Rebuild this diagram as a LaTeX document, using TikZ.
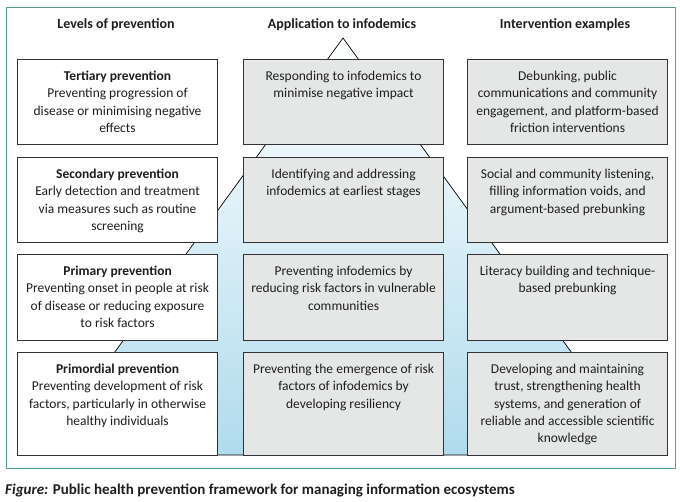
\documentclass[tikz,border=0pt]{standalone}
\usepackage{fontspec}
\setmainfont{Carlito}
\definecolor{framegreen}{RGB}{84,160,122}
\definecolor{boxgray}{RGB}{229,231,231}
\definecolor{edgegray}{RGB}{50,50,50}
\definecolor{txt}{RGB}{30,30,30}
\definecolor{pyrblue}{RGB}{176,219,237}
\tikzset{
  boxw/.style={draw=edgegray, line width=1.1pt, fill=white, minimum width=200pt, inner sep=0pt, anchor=north west},
  boxg/.style={boxw, fill=boxgray},
  btext/.style={align=center, inner sep=0pt, anchor=north, text=txt, font=\fontsize{13.5}{17.3}\selectfont},
  head/.style={text=txt, font=\fontsize{14}{16}\selectfont\bfseries, inner sep=0pt},
}
\begin{document}
\begin{tikzpicture}[x=1pt,y=-1pt]
\useasboundingbox (0,0) rectangle (680,501);
% frame
\node[draw=framegreen, line width=1.2pt, minimum width=669pt, minimum height=461pt, anchor=north west, inner sep=0pt] (frame) at (6,7) {};
% pyramid
\coordinate (apex) at (343,38);
\coordinate (bl) at (40,455);
\coordinate (br) at (646,455);
\shade[top color=white, bottom color=pyrblue, draw=black, line width=0.7pt] (apex) -- (bl) -- (br) -- cycle;
% headers
\node[head] (h1) at (116,25) {Levels of prevention};
\node[head] (h2) at (342,25) {Application to infodemics};
\node[head] (h3) at (565,25) {Intervention examples};
% left column
\node[boxw, minimum height=85pt] (l1) at (17,59) {};
\node[boxw, minimum height=85pt] (l2) at (17,157) {};
\node[boxw, minimum height=86pt] (l3) at (17,254) {};
\node[boxw, minimum height=103pt] (l4) at (17,352) {};
% middle column
\node[boxg, minimum height=85pt] (m1) at (243,59) {};
\node[boxg, minimum height=85pt] (m2) at (243,157) {};
\node[boxg, minimum height=86pt] (m3) at (243,254) {};
\node[boxg, minimum height=103pt] (m4) at (243,352) {};
% right column
\node[boxg, minimum height=85pt] (r1) at (467,59) {};
\node[boxg, minimum height=85pt] (r2) at (467,157) {};
\node[boxg, minimum height=86pt] (r3) at (467,254) {};
\node[boxg, minimum height=103pt] (r4) at (467,352) {};
% texts
\node[btext] (tl1) at ([yshift=-12pt]l1.north) {\textbf{Tertiary prevention}\\Preventing progression of\\disease or minimising negative\\effects};
\node[btext] (tl2) at ([yshift=-12pt]l2.north) {\textbf{Secondary prevention}\\Early detection and treatment\\via measures such as routine\\screening};
\node[btext] (tl3) at ([yshift=-12pt]l3.north) {\textbf{Primary prevention}\\Preventing onset in people at risk\\of disease or reducing exposure\\to risk factors};
\node[btext] (tl4) at ([yshift=-12pt]l4.north) {\textbf{Primordial prevention}\\Preventing development of risk\\factors, particularly in otherwise\\healthy individuals};
\node[btext] (tm1) at ([yshift=-12pt]m1.north) {Responding to infodemics to\\minimise negative impact};
\node[btext] (tm2) at ([yshift=-12pt]m2.north) {Identifying and addressing\\infodemics at earliest stages};
\node[btext] (tm3) at ([yshift=-12pt]m3.north) {Preventing infodemics by\\reducing risk factors in vulnerable\\communities};
\node[btext] (tm4) at ([yshift=-12pt]m4.north) {Preventing the emergence of risk\\factors of infodemics by\\developing resiliency};
\node[btext] (tr1) at ([yshift=-12pt]r1.north) {Debunking, public\\communications and community\\engagement, and platform-based\\friction interventions};
\node[btext] (tr2) at ([yshift=-12pt]r2.north) {Social and community listening,\\filling information voids, and\\argument-based prebunking};
\node[btext] (tr3) at ([yshift=-12pt]r3.north) {Literacy building and technique-\\based prebunking};
\node[btext] (tr4) at ([yshift=-12pt]r4.north) {Developing and maintaining\\trust, strengthening health\\systems, and generation of\\reliable and accessible scientific\\knowledge};
% caption
\node[anchor=west, inner sep=0pt, text=txt, font=\fontsize{15}{17}\selectfont\bfseries] (cap) at (5,490) {\textit{Figure:} Public health prevention framework for managing information ecosystems};
\end{tikzpicture}
\end{document}
